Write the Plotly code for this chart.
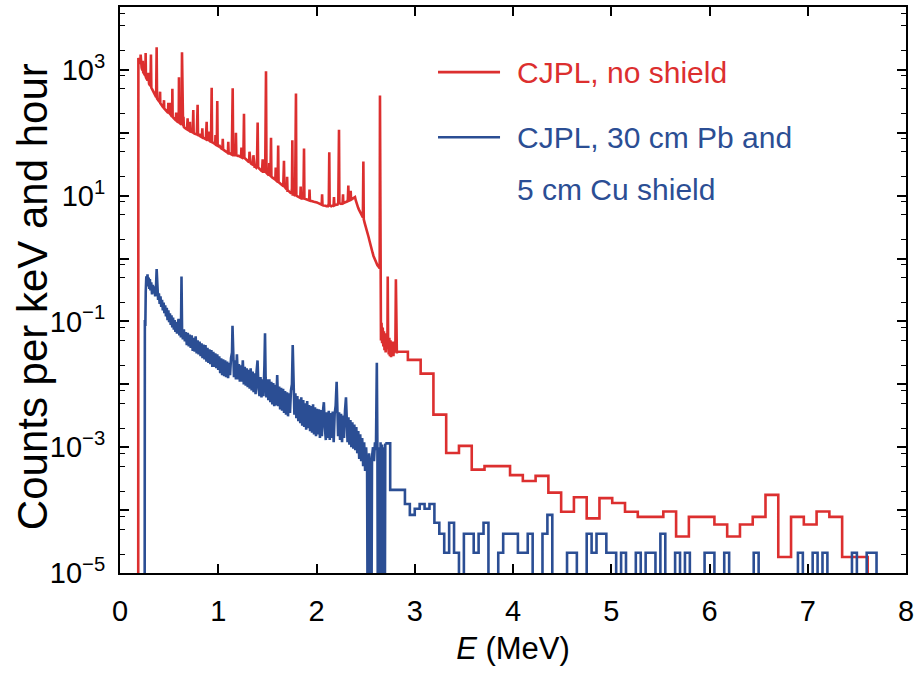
import plotly.graph_objects as go

# ---------------- data ----------------
# CJPL, no shield : fine-binned part, (energy MeV, counts per keV and hour)
red_points = [
    (0.185, 0), (0.187, 1550), (0.195, 1400), (0.203, 1250), (0.208, 1300), (0.210, 1750), (0.213, 1200),
    (0.220, 1080), (0.228, 980), (0.236, 920), (0.244, 880), (0.252, 830), (0.258, 800), (0.261, 1850),
    (0.264, 760), (0.272, 720), (0.280, 680), (0.288, 640), (0.296, 600), (0.304, 570), (0.310, 560),
    (0.315, 1750), (0.319, 520), (0.328, 490), (0.336, 460), (0.344, 430), (0.352, 410), (0.360, 385),
    (0.368, 370), (0.373, 2300), (0.377, 350), (0.386, 335), (0.394, 320), (0.402, 310), (0.410, 295),
    (0.418, 285), (0.426, 272), (0.434, 262), (0.442, 250), (0.450, 244), (0.458, 236), (0.466, 226),
    (0.474, 220), (0.482, 214), (0.489, 220), (0.492, 300), (0.496, 210), (0.504, 204), (0.512, 196),
    (0.520, 188), (0.528, 182), (0.531, 230), (0.533, 500), (0.536, 178), (0.544, 172), (0.552, 166),
    (0.560, 162), (0.568, 158), (0.576, 154), (0.584, 150), (0.592, 148), (0.598, 160), (0.600, 760),
    (0.603, 146), (0.610, 142), (0.618, 138), (0.626, 135), (0.631, 1900), (0.635, 130), (0.642, 127),
    (0.650, 124), (0.658, 120), (0.666, 118), (0.674, 115), (0.682, 113), (0.688, 170), (0.692, 111),
    (0.700, 109), (0.708, 107), (0.716, 105), (0.724, 104), (0.732, 102), (0.740, 101), (0.746, 230),
    (0.750, 99), (0.758, 97), (0.766, 96), (0.774, 95), (0.782, 94), (0.790, 280), (0.794, 92),
    (0.802, 91), (0.810, 96), (0.818, 88), (0.826, 87), (0.834, 85), (0.842, 84), (0.850, 83),
    (0.858, 82), (0.866, 80), (0.874, 79), (0.882, 150), (0.886, 78), (0.894, 77), (0.902, 76),
    (0.910, 75), (0.918, 73), (0.926, 72), (0.933, 520), (0.937, 71), (0.945, 70), (0.953, 68),
    (0.961, 67), (0.969, 66), (0.977, 64), (0.985, 63), (0.990, 320), (0.994, 62), (1.002, 61),
    (1.010, 64), (1.018, 58), (1.026, 57), (1.034, 56), (1.042, 55), (1.050, 54), (1.058, 53),
    (1.066, 52), (1.074, 51), (1.082, 50), (1.090, 49), (1.098, 48), (1.106, 47), (1.114, 47),
    (1.122, 46), (1.130, 46), (1.138, 45), (1.147, 510), (1.152, 45), (1.160, 44), (1.168, 44),
    (1.176, 46), (1.180, 100), (1.184, 44), (1.192, 43), (1.200, 43), (1.208, 43), (1.216, 42),
    (1.224, 42), (1.232, 41), (1.240, 41), (1.248, 40), (1.256, 42), (1.262, 200), (1.266, 40),
    (1.274, 39), (1.282, 38), (1.290, 37), (1.298, 36), (1.306, 35), (1.314, 34), (1.322, 34),
    (1.330, 33), (1.338, 32), (1.346, 31), (1.354, 31), (1.362, 30), (1.370, 29), (1.378, 29),
    (1.386, 28), (1.394, 30), (1.401, 145), (1.406, 28), (1.414, 27), (1.422, 27), (1.430, 26),
    (1.438, 25), (1.446, 25), (1.454, 24), (1.462, 24), (1.470, 24), (1.478, 26), (1.486, 950),
    (1.491, 23), (1.499, 22), (1.507, 22), (1.515, 21), (1.523, 21), (1.531, 20), (1.537, 83),
    (1.541, 20), (1.549, 19.5), (1.557, 19), (1.565, 19), (1.573, 18.5), (1.581, 18), (1.589, 17.5),
    (1.597, 17), (1.605, 18), (1.610, 63), (1.614, 16.5), (1.622, 16), (1.630, 15.5), (1.638, 15),
    (1.646, 14.5), (1.654, 14.5), (1.662, 15), (1.669, 36), (1.673, 14), (1.681, 13.5), (1.689, 13),
    (1.697, 12.5), (1.705, 12), (1.713, 12), (1.721, 11.5), (1.729, 11.5), (1.737, 11), (1.745, 11),
    (1.750, 13), (1.754, 76), (1.758, 10.5), (1.766, 10.5), (1.774, 10), (1.782, 10), (1.791, 420),
    (1.795, 10), (1.803, 9.8), (1.811, 9.6), (1.819, 9.4), (1.827, 9.3), (1.835, 9.2), (1.843, 9.1),
    (1.851, 9), (1.859, 9), (1.867, 9.5), (1.873, 56), (1.877, 9), (1.885, 8.9), (1.893, 8.8),
    (1.901, 8.7), (1.909, 8.6), (1.917, 8.5), (1.925, 8.4), (1.933, 8.4), (1.941, 8.3), (1.949, 8.3),
    (1.957, 8.2), (1.965, 8.1), (1.973, 8.0), (1.981, 8.0), (1.989, 7.9), (1.997, 7.8), (2.005, 7.8),
    (2.013, 7.7), (2.021, 7.6), (2.029, 7.5), (2.037, 7.4), (2.045, 7.3), (2.053, 7.2), (2.061, 7.1),
    (2.069, 7.0), (2.077, 7.0), (2.085, 6.9), (2.093, 6.9), (2.101, 6.8), (2.109, 6.8), (2.117, 6.8),
    (2.125, 7.5), (2.130, 49), (2.134, 7.0), (2.142, 6.8), (2.150, 6.8), (2.158, 6.9), (2.166, 6.9),
    (2.174, 7.0), (2.182, 7.0), (2.190, 7.1), (2.198, 7.1), (2.206, 7.2), (2.214, 7.2), (2.222, 7.8),
    (2.229, 112), (2.233, 7.6), (2.241, 7.4), (2.249, 7.4), (2.257, 7.5), (2.265, 7.5), (2.273, 7.6),
    (2.281, 7.7), (2.289, 7.8), (2.297, 7.9), (2.305, 8.0), (2.313, 8.1), (2.319, 8.6), (2.324, 14.5),
    (2.328, 8.3), (2.336, 8.4), (2.344, 8.5), (2.352, 8.6), (2.360, 8.8), (2.368, 9.0), (2.376, 9.2),
    (2.384, 9.4), (2.392, 9.5), (2.400, 8.4), (2.408, 7.4), (2.416, 6.9), (2.424, 6.4), (2.432, 6.0),
    (2.440, 5.6), (2.448, 5.2), (2.456, 4.9), (2.464, 4.6), (2.472, 4.5), (2.477, 35), (2.481, 4.2),
    (2.490, 3.7), (2.500, 3.3), (2.510, 3.0), (2.520, 2.6), (2.530, 2.2), (2.540, 1.9), (2.550, 1.6),
    (2.560, 1.4), (2.570, 1.25), (2.580, 1.1), (2.590, 1.0), (2.600, 0.9), (2.610, 0.84), (2.620, 0.78),
    (2.630, 0.75), (2.638, 0.7), (2.643, 0.7), (2.646, 390), (2.650, 0.09), (2.656, 0.05), (2.662, 0.095),
    (2.668, 0.045), (2.674, 0.08), (2.680, 0.04), (2.686, 0.07), (2.692, 0.035), (2.698, 0.06),
    (2.704, 0.032), (2.710, 0.065), (2.716, 0.038), (2.722, 0.05), (2.725, 0.52), (2.729, 0.045),
    (2.735, 0.03), (2.741, 0.055), (2.747, 0.028), (2.753, 0.05), (2.759, 0.027), (2.765, 0.045),
    (2.771, 0.03), (2.777, 0.048), (2.783, 0.028), (2.789, 0.042), (2.795, 0.032), (2.803, 0.045),
    (2.808, 0.47), (2.812, 0.04), (2.818, 0.031), (2.820, 0.033),
]
# weaker lines riding on the unshielded continuum
red_small_peaks = [
    (0.232, 1400), (0.286, 900), (0.408, 450), (0.448, 330), (0.516, 300), (0.572, 210), (0.646, 180),
    (0.712, 150), (0.838, 118), (0.905, 105), (0.972, 92), (1.046, 80), (1.102, 72), (1.236, 58),
    (1.318, 50), (1.358, 44), (1.452, 38), (1.519, 33), (1.585, 28), (1.701, 20), (1.839, 14),
    (1.929, 12.5), (2.057, 10.5), (2.178, 9.5), (2.270, 10.5), (2.348, 12),
]
red_all = sorted(red_points + red_small_peaks)
red_E = [p[0] for p in red_all]
red_v = [p[1] for p in red_all]

# CJPL, no shield : coarse histogram (left bin edges, MeV)
red_hist_E = [2.82, 2.93, 3.06, 3.19, 3.32, 3.45, 3.58, 3.71, 3.84, 3.97, 4.10, 4.23, 4.36,
              4.49, 4.62, 4.75, 4.88, 5.01, 5.14, 5.27, 5.40, 5.53, 5.66, 5.79, 5.92, 6.05,
              6.18, 6.31, 6.44, 6.57, 6.70, 6.83, 6.96, 7.09, 7.22, 7.35, 7.48, 7.61]
red_hist_v = [0.033, 0.0245, 0.0148, 0.0033, 8.1e-4, 1.05e-3, 4.4e-4, 5.0e-4, 5.0e-4, 3.6e-4,
              2.9e-4, 3.5e-4, 1.9e-4, 9.4e-5, 1.6e-4, 7.4e-5, 1.55e-4, 1.3e-4, 9.4e-5, 7.8e-5,
              7.8e-5, 9.5e-5, 3.8e-5, 7.8e-5, 7.8e-5, 5.9e-5, 3.8e-5, 5.9e-5, 7.8e-5, 1.75e-4,
              1.8e-5, 7.8e-5, 5.9e-5, 9.5e-5, 7.8e-5, 1.8e-5, 1.8e-5, 0]

# CJPL, 30 cm Pb and 5 cm Cu shield : fine-binned part
blue_points = [
    (0.250, 0), (0.253, 0.105), (0.258, 0.085), (0.262, 0.30), (0.268, 0.52), (0.274, 0.40), (0.280, 0.56),
    (0.286, 0.36), (0.292, 0.50), (0.298, 0.33), (0.304, 0.47), (0.310, 0.31), (0.318, 0.42), (0.326, 0.27),
    (0.334, 0.38), (0.342, 0.28), (0.350, 0.36), (0.358, 0.25), (0.366, 0.34), (0.373, 0.68), (0.380, 0.26),
    (0.388, 0.22), (0.396, 0.28), (0.404, 0.19), (0.412, 0.25), (0.420, 0.17), (0.428, 0.22), (0.436, 0.15),
    (0.444, 0.20), (0.452, 0.135), (0.460, 0.18), (0.468, 0.12), (0.476, 0.165), (0.484, 0.105), (0.492, 0.15),
    (0.500, 0.097), (0.508, 0.135), (0.516, 0.088), (0.524, 0.125), (0.532, 0.08), (0.540, 0.115), (0.548, 0.074),
    (0.556, 0.105), (0.564, 0.068), (0.572, 0.098), (0.580, 0.064), (0.588, 0.092), (0.596, 0.11), (0.604, 0.06),
    (0.612, 0.082), (0.620, 0.056), (0.626, 0.52), (0.632, 0.07),
    (0.640, 0.052), (0.650, 0.075), (0.660, 0.048), (0.670, 0.068), (0.680, 0.042), (0.690, 0.066),
    (0.700, 0.04), (0.710, 0.062), (0.720, 0.038), (0.730, 0.06), (0.740, 0.034), (0.750, 0.055),
    (0.760, 0.033), (0.770, 0.058), (0.780, 0.031), (0.790, 0.05), (0.800, 0.03), (0.810, 0.048),
    (0.820, 0.028), (0.830, 0.045), (0.840, 0.026), (0.850, 0.043), (0.860, 0.025), (0.870, 0.042),
    (0.880, 0.023), (0.890, 0.038), (0.900, 0.022), (0.910, 0.036), (0.920, 0.021), (0.930, 0.035),
    (0.940, 0.019), (0.950, 0.033), (0.960, 0.019), (0.970, 0.031), (0.980, 0.018), (0.990, 0.03),
    (1.000, 0.017), (1.010, 0.028), (1.020, 0.015), (1.030, 0.026), (1.040, 0.014), (1.050, 0.025),
    (1.060, 0.0135), (1.070, 0.024), (1.080, 0.013), (1.090, 0.023), (1.100, 0.0125), (1.110, 0.022),
    (1.120, 0.014), (1.130, 0.026), (1.140, 0.032), (1.145, 0.085), (1.152, 0.026), (1.160, 0.013),
    (1.170, 0.024), (1.180, 0.012), (1.190, 0.03), (1.200, 0.012), (1.210, 0.021), (1.220, 0.011),
    (1.230, 0.02), (1.240, 0.011), (1.250, 0.024), (1.260, 0.01), (1.270, 0.019), (1.280, 0.0095),
    (1.290, 0.018), (1.300, 0.009), (1.310, 0.017), (1.320, 0.0085), (1.330, 0.018), (1.340, 0.008),
    (1.350, 0.016), (1.360, 0.0075), (1.370, 0.015), (1.380, 0.007), (1.390, 0.016), (1.400, 0.024),
    (1.410, 0.0085), (1.420, 0.0065), (1.430, 0.013), (1.440, 0.0062), (1.450, 0.012), (1.460, 0.0065),
    (1.470, 0.02), (1.476, 0.065), (1.482, 0.013), (1.490, 0.0062), (1.500, 0.012), (1.510, 0.0056),
    (1.520, 0.012), (1.530, 0.0052), (1.540, 0.011), (1.550, 0.0048), (1.560, 0.0105), (1.570, 0.0045),
    (1.580, 0.0098), (1.590, 0.0046), (1.600, 0.014), (1.610, 0.0045), (1.620, 0.0092), (1.630, 0.004),
    (1.640, 0.0088), (1.650, 0.0038), (1.660, 0.0085), (1.670, 0.0035), (1.680, 0.0078), (1.690, 0.0033),
    (1.700, 0.0075), (1.710, 0.0031), (1.720, 0.0072), (1.730, 0.0035), (1.740, 0.008), (1.750, 0.01),
    (1.758, 0.042), (1.766, 0.009), (1.775, 0.0033), (1.785, 0.0072), (1.795, 0.0029), (1.805, 0.0065),
    (1.815, 0.0026), (1.825, 0.0058), (1.835, 0.0024), (1.845, 0.0062), (1.855, 0.0022), (1.865, 0.0056),
    (1.875, 0.0021), (1.885, 0.005), (1.895, 0.0019), (1.905, 0.0054), (1.915, 0.002), (1.925, 0.0047),
    (1.935, 0.0018), (1.945, 0.0045), (1.955, 0.0017), (1.965, 0.0048), (1.975, 0.0016), (1.985, 0.0043),
    (1.995, 0.0015), (2.005, 0.0041), (2.015, 0.0016), (2.025, 0.004), (2.035, 0.0014), (2.045, 0.0039),
    (2.055, 0.0015), (2.065, 0.0037), (2.075, 0.0052), (2.085, 0.0021), (2.095, 0.0013), (2.105, 0.0036),
    (2.115, 0.0014), (2.125, 0.0038), (2.135, 0.0013), (2.145, 0.0035), (2.155, 0.0014), (2.165, 0.0037),
    (2.175, 0.0012), (2.185, 0.0034), (2.195, 0.0046), (2.205, 0.011), (2.212, 0.0042), (2.220, 0.0015),
    (2.230, 0.0036), (2.240, 0.0013), (2.250, 0.0034), (2.260, 0.0012), (2.270, 0.0032), (2.280, 0.0014),
    (2.290, 0.0038), (2.300, 0.0062), (2.308, 0.0028), (2.316, 0.0012), (2.325, 0.003), (2.335, 0.0011),
    (2.345, 0.0027), (2.355, 0.001), (2.365, 0.0025), (2.375, 0.00095), (2.385, 0.0023), (2.395, 0.0009),
    (2.405, 0.0021), (2.415, 0.0008), (2.425, 0.0018), (2.435, 0.00065), (2.445, 0.0016), (2.455, 0.0006),
    (2.465, 0.0014), (2.475, 0.0005), (2.485, 0.0012), (2.495, 0.00042), (2.505, 0.001), (2.515, 0.0004),
    (2.525, 0), (2.535, 0.0008), (2.545, 0.00045), (2.555, 0), (2.565, 0.0007), (2.575, 0.001),
    (2.585, 0.0006), (2.595, 0.0012), (2.605, 0.0009), (2.614, 0.022), (2.620, 0.0009), (2.628, 0),
    (2.636, 0.001), (2.644, 0), (2.652, 0.0012), (2.660, 0), (2.668, 0.0011), (2.676, 0), (2.684, 0.001),
    (2.692, 0), (2.700, 0.00115),
]
blue_E = [p[0] for p in blue_points]
blue_v = [p[1] for p in blue_points]

# CJPL, shielded : coarse histogram (left bin edges, MeV)
blue_hist_E = [2.70, 2.75, 2.80, 2.85, 2.90, 2.95, 3.00, 3.05, 3.10, 3.15, 3.20, 3.25, 3.30, 3.35,
               3.40, 3.45, 3.50, 3.55, 3.60, 3.65, 3.70, 3.75, 3.80, 3.85, 3.90, 3.95, 4.00, 4.05,
               4.10, 4.15, 4.20, 4.25, 4.30, 4.35, 4.40, 4.45, 4.50, 4.55, 4.60, 4.65, 4.70, 4.75,
               4.80, 4.85, 4.90, 4.95, 5.00, 5.05, 5.10, 5.15, 5.20, 5.25, 5.30, 5.35, 5.40, 5.45,
               5.50, 5.55, 5.60, 5.65, 5.70, 5.75, 5.80, 5.85, 5.90, 5.95, 6.00, 6.05, 6.10, 6.15,
               6.20, 6.25, 6.30, 6.35, 6.40, 6.45, 6.50, 6.55, 6.60, 6.65, 6.70, 6.75, 6.80, 6.85,
               6.90, 6.95, 7.00, 7.05, 7.10, 7.15, 7.20, 7.25, 7.30, 7.35, 7.40, 7.45, 7.50, 7.55,
               7.60, 7.65, 7.70]
blue_hist_v = [1.15e-3, 2.1e-4, 2.1e-4, 2.1e-4, 1.25e-4, 8.4e-5, 1.05e-4, 1.25e-4, 1.05e-4, 1.25e-4,
               6.3e-5, 4.2e-5, 2.1e-5, 6.3e-5, 2.1e-5, 0, 4.2e-5, 4.2e-5, 2.1e-5, 4.2e-5,
               6.3e-5, 0, 0, 2.1e-5, 4.2e-5, 4.2e-5, 4.2e-5, 2.1e-5, 2.1e-5, 4.2e-5,
               0, 0, 4.2e-5, 8.4e-5, 0, 0, 0, 2.1e-5, 2.1e-5, 0,
               0, 4.2e-5, 2.1e-5, 4.2e-5, 4.2e-5, 2.1e-5, 2.1e-5, 0, 2.1e-5, 0,
               0, 2.1e-5, 0, 2.1e-5, 2.1e-5, 0, 4.2e-5, 0, 0, 2.1e-5,
               0, 2.1e-5, 0, 0, 0, 2.1e-5, 2.1e-5, 0, 0, 2.1e-5,
               0, 0, 0, 0, 0, 2.1e-5, 0, 0, 0, 0,
               0, 0, 0, 0, 2.1e-5, 0, 0, 2.1e-5, 0, 2.1e-5,
               0, 0, 0, 0, 0, 2.1e-5, 0, 0, 2.1e-5, 2.1e-5, 0]

x_ticks = [0, 1, 2, 3, 4, 5, 6, 7, 8]
y_label_exponents = [-5, -3, -1, 1, 3]      # labelled decades
y_plain_exponents = [-4, -2, 0, 2]          # decades with a tick but no label
legend_labels = ["CJPL, no shield", "CJPL, 30 cm Pb and", "5 cm Cu shield"]
y_title = "Counts per keV and hour"
x_title = "<i>E</i> (MeV)"

# ---------------- style ----------------
RED = "#DC2F2F"
BLUE = "#2B4E94"
FONT = "Liberation Sans, Arial, Helvetica, sans-serif"
FLOOR = 1e-8  # empty bins are drawn down through the bottom of the log axis


def floored(vals):
    return [v if v > 0 else FLOOR for v in vals]


fig = go.Figure()
fig.add_trace(go.Scatter(x=red_E, y=floored(red_v), mode="lines", name=legend_labels[0],
                         line=dict(color=RED, width=2.6), showlegend=False, hoverinfo="skip"))
fig.add_trace(go.Scatter(x=red_hist_E, y=floored(red_hist_v), mode="lines", name=legend_labels[0],
                         line=dict(color=RED, width=2.6, shape="hv"), showlegend=False, hoverinfo="skip"))
fig.add_trace(go.Scatter(x=blue_E, y=floored(blue_v), mode="lines", name=legend_labels[1],
                         line=dict(color=BLUE, width=2.6), showlegend=False, hoverinfo="skip"))
fig.add_trace(go.Scatter(x=blue_hist_E, y=floored(blue_hist_v), mode="lines", name=legend_labels[1],
                         line=dict(color=BLUE, width=2.6, shape="hv"), showlegend=False, hoverinfo="skip"))
# empty trace that only carries the overlaid axis with the unlabelled decade ticks
fig.add_trace(go.Scatter(x=[None], y=[None], yaxis="y2", mode="lines", showlegend=False, hoverinfo="skip"))

y_tickvals = [10.0 ** e for e in y_label_exponents]
y_ticktext = ["10<sup>%s</sup>" % str(e).replace("-", "\u2212") for e in y_label_exponents]
y_plain = [10.0 ** e for e in y_plain_exponents]
y_minor = [m * 10.0 ** e for e in range(-5, 4) for m in (2, 5, 8)]

fig.update_layout(
    width=919, height=690,
    margin=dict(l=120, r=13, t=7, b=117, autoexpand=False),
    paper_bgcolor="white", plot_bgcolor="white",
    showlegend=False,
    xaxis=dict(range=[0, 8], tickvals=x_ticks, ticktext=[str(t) for t in x_ticks],
               automargin=False,
               ticks="inside", ticklen=9, tickwidth=1.5, tickcolor="black",
               showline=True, linewidth=2, linecolor="black", mirror="ticks",
               showgrid=False, zeroline=False, ticklabelstandoff=11,
               tickfont=dict(family=FONT, size=29, color="black"),
               title=dict(text=x_title, font=dict(family=FONT, size=31, color="black"),
                          standoff=12)),
    yaxis=dict(type="log", range=[-5, 4], tickvals=y_tickvals, ticktext=y_ticktext,
               automargin=False,
               ticks="inside", ticklen=9, tickwidth=1.5, tickcolor="black",
               showline=True, linewidth=2, linecolor="black", mirror="ticks",
               showgrid=False, zeroline=False, ticklabelstandoff=7,
               minor=dict(tickvals=y_minor, ticks="inside", ticklen=5, tickwidth=1.2,
                          tickcolor="black", showgrid=False),
               tickfont=dict(family=FONT, size=29, color="black")),
    yaxis2=dict(type="log", range=[-5, 4], overlaying="y", side="left", anchor="x",
                tickvals=y_plain, showticklabels=False, automargin=False,
                ticks="inside", ticklen=9, tickwidth=1.5, tickcolor="black",
                showline=True, linewidth=2, linecolor="black", mirror="ticks",
                showgrid=False, zeroline=False),
)

# vertical axis title, placed as in the reference
fig.add_annotation(text=y_title, xref="paper", yref="paper", x=-0.1115, y=0.488,
                   xanchor="center", yanchor="middle", textangle=-90, showarrow=False,
                   font=dict(family=FONT, size=42, color="black"))

# legend drawn as line samples + coloured text, as in the reference
fig.add_shape(type="line", xref="paper", yref="paper", x0=0.4046, x1=0.4835, y0=0.885, y1=0.885,
              line=dict(color=RED, width=2.6))
fig.add_shape(type="line", xref="paper", yref="paper", x0=0.4046, x1=0.4835, y0=0.770, y1=0.770,
              line=dict(color=BLUE, width=2.6))
for txt, yy, col in [(legend_labels[0], 0.885, RED), (legend_labels[1], 0.770, BLUE),
                     (legend_labels[2], 0.677, BLUE)]:
    fig.add_annotation(text=txt, xref="paper", yref="paper", x=0.502, y=yy,
                       xanchor="left", yanchor="middle", showarrow=False,
                       font=dict(family=FONT, size=30, color=col))

# the page's default 8 px body margin would shift the figure; remove it
fig.write_html("out.html", config={"displayModeBar": False},
               post_script="document.body.style.margin='0px';")
